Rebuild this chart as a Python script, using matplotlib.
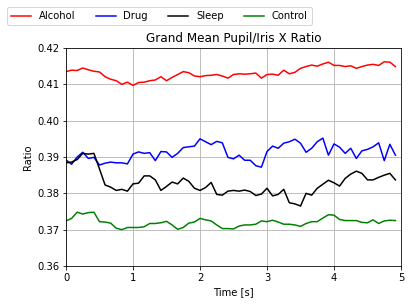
import numpy as np
import matplotlib
matplotlib.use('Agg')
import matplotlib.pyplot as plt

# time axis: 60 samples at 12 Hz
time = np.arange(60) / 12.0

alcohol = [0.4135, 0.4139, 0.4138, 0.4145, 0.4140, 0.4136, 0.4134, 0.4121, 0.4114, 0.4110,
           0.4100, 0.4106, 0.4097, 0.4105, 0.4106, 0.4110, 0.4112, 0.4121, 0.4110, 0.4119,
           0.4127, 0.4135, 0.4132, 0.4123, 0.4121, 0.4124, 0.4125, 0.4127, 0.4123, 0.4117,
           0.4127, 0.4129, 0.4128, 0.4129, 0.4131, 0.4117, 0.4127, 0.4128, 0.4125, 0.4139,
           0.4129, 0.4133, 0.4144, 0.4149, 0.4153, 0.4150, 0.4156, 0.4161, 0.4152, 0.4152,
           0.4149, 0.4151, 0.4144, 0.4149, 0.4153, 0.4155, 0.4152, 0.4162, 0.4161, 0.4149]

drug = [0.3892, 0.3880, 0.3900, 0.3913, 0.3896, 0.3899, 0.3878, 0.3883, 0.3886, 0.3884,
        0.3884, 0.3881, 0.3908, 0.3914, 0.3910, 0.3912, 0.3890, 0.3915, 0.3914, 0.3899,
        0.3910, 0.3926, 0.3928, 0.3930, 0.3950, 0.3942, 0.3934, 0.3943, 0.3939, 0.3899,
        0.3895, 0.3905, 0.3891, 0.3891, 0.3876, 0.3872, 0.3915, 0.3930, 0.3924, 0.3938,
        0.3942, 0.3949, 0.3938, 0.3913, 0.3924, 0.3942, 0.3952, 0.3905, 0.3936, 0.3927,
        0.3910, 0.3924, 0.3896, 0.3917, 0.3921, 0.3928, 0.3939, 0.3890, 0.3935, 0.3905]

sleep = [0.3884, 0.3886, 0.3893, 0.3910, 0.3908, 0.3910, 0.3867, 0.3823, 0.3817, 0.3808,
         0.3811, 0.3806, 0.3826, 0.3828, 0.3848, 0.3848, 0.3837, 0.3808, 0.3819, 0.3831,
         0.3826, 0.3842, 0.3833, 0.3814, 0.3808, 0.3816, 0.3830, 0.3797, 0.3795, 0.3806,
         0.3808, 0.3806, 0.3809, 0.3805, 0.3794, 0.3798, 0.3814, 0.3793, 0.3797, 0.3811,
         0.3774, 0.3771, 0.3765, 0.3800, 0.3795, 0.3814, 0.3825, 0.3836, 0.3829, 0.3820,
         0.3841, 0.3853, 0.3861, 0.3855, 0.3837, 0.3837, 0.3844, 0.3850, 0.3855, 0.3837]

control = [0.3724, 0.3731, 0.3748, 0.3743, 0.3747, 0.3748, 0.3722, 0.3721, 0.3718, 0.3704,
           0.3700, 0.3706, 0.3706, 0.3706, 0.3708, 0.3717, 0.3717, 0.3719, 0.3723, 0.3713,
           0.3701, 0.3706, 0.3718, 0.3721, 0.3731, 0.3727, 0.3724, 0.3713, 0.3703, 0.3703,
           0.3702, 0.3710, 0.3713, 0.3713, 0.3715, 0.3724, 0.3722, 0.3726, 0.3721, 0.3715,
           0.3715, 0.3713, 0.3709, 0.3717, 0.3722, 0.3722, 0.3732, 0.3741, 0.3740, 0.3728,
           0.3725, 0.3725, 0.3725, 0.3720, 0.3719, 0.3727, 0.3717, 0.3724, 0.3726, 0.3725]

fig = plt.figure(figsize=(410/72, 304/72), dpi=72)
ax = fig.add_axes([66/410, 1-266/304, (401-66)/410, (266-48)/304])

ax.plot(time, alcohol, c='r', label='Alcohol')
ax.plot(time, drug, c='b', label='Drug')
ax.plot(time, sleep, c='k', label='Sleep')
ax.plot(time, control, c='g', label='Control')

ax.set_xlim(0, 5)
ax.set_ylim(0.36, 0.42)
ax.set_yticks(np.arange(0.36, 0.4201, 0.01))
ax.set_yticklabels(['%.2f' % v for v in np.arange(0.36, 0.4201, 0.01)])
ax.grid(True)
ax.set_xlabel('Time [s]')
ax.set_ylabel('Ratio')
ax.set_title('Grand Mean Pupil/Iris X Ratio')

fig.legend(loc='upper left', bbox_to_anchor=(2/410, 1-2/304), ncol=4)

fig.savefig('out.png', dpi=72)
